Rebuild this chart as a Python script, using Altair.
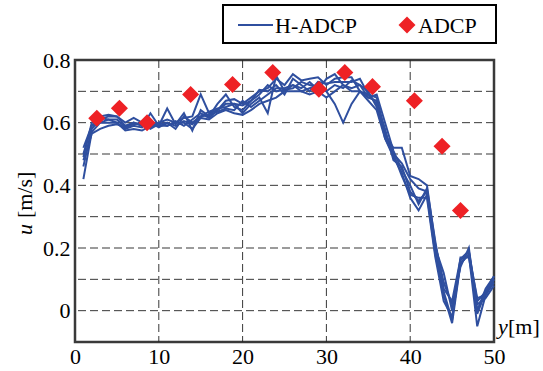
import altair as alt
import pandas as pd

# Cross-channel positions [m]
y_pos = list(range(1, 51))

# H-ADCP velocity profiles u [m/s], one list per measurement run
run_1 = [0.50, 0.59, 0.62, 0.625, 0.62, 0.60, 0.615, 0.60, 0.595, 0.60,
         0.61, 0.60, 0.615, 0.62, 0.69, 0.63, 0.64, 0.67, 0.675, 0.66,
         0.68, 0.70, 0.71, 0.74, 0.72, 0.755, 0.735, 0.74, 0.745, 0.72,
         0.74, 0.745, 0.745, 0.70, 0.69, 0.68, 0.57, 0.50, 0.47, 0.42,
         0.39, 0.38, 0.20, 0.12, 0.00, 0.16, 0.19, 0.03, 0.06, 0.10]
run_2 = [0.42, 0.57, 0.60, 0.61, 0.60, 0.58, 0.59, 0.585, 0.63, 0.59,
         0.645, 0.595, 0.63, 0.575, 0.64, 0.62, 0.66, 0.69, 0.65, 0.64,
         0.67, 0.69, 0.72, 0.70, 0.705, 0.71, 0.73, 0.72, 0.715, 0.70,
         0.66, 0.60, 0.66, 0.70, 0.68, 0.67, 0.55, 0.49, 0.44, 0.36,
         0.32, 0.37, 0.18, 0.05, -0.04, 0.15, 0.18, -0.05, 0.05, 0.09]
run_3 = [0.46, 0.58, 0.61, 0.62, 0.62, 0.59, 0.60, 0.59, 0.60, 0.585,
         0.60, 0.58, 0.62, 0.60, 0.62, 0.635, 0.645, 0.65, 0.66, 0.63,
         0.66, 0.68, 0.63, 0.75, 0.70, 0.72, 0.71, 0.73, 0.705, 0.74,
         0.755, 0.72, 0.71, 0.72, 0.70, 0.65, 0.56, 0.52, 0.52, 0.43,
         0.42, 0.40, 0.21, 0.09, 0.02, 0.14, 0.20, 0.00, 0.07, 0.11]
run_4 = [0.49, 0.60, 0.615, 0.61, 0.61, 0.585, 0.60, 0.59, 0.585, 0.60,
         0.59, 0.605, 0.59, 0.61, 0.63, 0.615, 0.64, 0.66, 0.66, 0.655,
         0.67, 0.705, 0.70, 0.72, 0.69, 0.74, 0.72, 0.70, 0.73, 0.725,
         0.73, 0.73, 0.73, 0.74, 0.69, 0.66, 0.58, 0.48, 0.46, 0.38,
         0.35, 0.38, 0.19, 0.06, -0.03, 0.17, 0.17, 0.02, 0.04, 0.08]
run_5 = [0.52, 0.59, 0.60, 0.60, 0.60, 0.575, 0.58, 0.575, 0.59, 0.59,
         0.59, 0.60, 0.60, 0.58, 0.615, 0.61, 0.63, 0.64, 0.63, 0.625,
         0.64, 0.66, 0.67, 0.68, 0.70, 0.70, 0.70, 0.69, 0.70, 0.68,
         0.70, 0.72, 0.70, 0.70, 0.67, 0.64, 0.55, 0.50, 0.43, 0.37,
         0.36, 0.36, 0.17, 0.03, -0.02, 0.15, 0.18, 0.04, 0.05, 0.10]
run_6 = [0.48, 0.565, 0.58, 0.59, 0.595, 0.585, 0.595, 0.60, 0.58, 0.595,
         0.60, 0.59, 0.605, 0.595, 0.62, 0.625, 0.635, 0.645, 0.64, 0.67,
         0.65, 0.67, 0.69, 0.71, 0.71, 0.72, 0.70, 0.71, 0.72, 0.70,
         0.72, 0.71, 0.735, 0.72, 0.68, 0.69, 0.60, 0.51, 0.45, 0.40,
         0.34, 0.39, 0.22, 0.07, 0.03, 0.165, 0.19, -0.01, 0.06, 0.11]
runs = [run_1, run_2, run_3, run_4, run_5, run_6]

# ADCP reference measurements
adcp_y = [2.6, 5.3, 8.6, 13.8, 18.8, 23.6, 29.1, 32.2, 35.5, 40.5, 43.8, 46.0]
adcp_u = [0.614, 0.646, 0.600, 0.690, 0.722, 0.760, 0.707, 0.760, 0.715,
          0.670, 0.525, 0.320]

x_ticks = [0, 10, 20, 30, 40, 50]
y_ticks = [0, 0.2, 0.4, 0.6, 0.8]
x_grid = [10, 20, 30, 40]
y_grid = [0.0, 0.1, 0.2, 0.3, 0.4, 0.5, 0.6, 0.7]

BLUE = "#2F4F9F"
RED = "#EE2125"
SERIF = "Liberation Serif, Times New Roman, Times, serif"
FS = 22

rows = []
for k, run in enumerate(runs):
    for yy, uu in zip(y_pos, run):
        rows.append({"run": k, "y": yy, "u": uu})
hadcp = pd.DataFrame(rows)
adcp = pd.DataFrame({"y": adcp_y, "u": adcp_u})

x_scale = alt.Scale(domain=[0, 50], nice=False, zero=False)
y_scale = alt.Scale(domain=[-0.1, 0.8], nice=False, zero=False)

axis_style = dict(domain=False, ticks=False, grid=False, title=None,
                  labelFont=SERIF, labelFontSize=FS, labelColor="black",
                  labelOverlap=False)

# Dashed grid lines
vgrid = alt.Chart(pd.DataFrame({"y": x_grid})).mark_rule(
    color="#222", strokeDash=[8, 4], strokeWidth=1, opacity=0.9
).encode(x=alt.X("y:Q", scale=x_scale,
                 axis=alt.Axis(values=x_ticks, format="d", labelPadding=4,
                               labelFlush=False, **axis_style)))
hgrid = alt.Chart(pd.DataFrame({"u": y_grid})).mark_rule(
    color="#222", strokeDash=[8, 4], strokeWidth=1, opacity=0.9
).encode(y=alt.Y("u:Q", scale=y_scale,
                 axis=alt.Axis(values=y_ticks, format=".1f",
                               labelExpr="datum.value == 0 ? '0' : datum.label",
                               labelPadding=5, labelFlush=False,
                               **axis_style)))

lines = alt.Chart(hadcp).mark_line(color=BLUE, strokeWidth=2).encode(
    x=alt.X("y:Q", scale=x_scale), y=alt.Y("u:Q", scale=y_scale),
    detail="run:N")

points = alt.Chart(adcp).mark_point(
    shape="diamond", filled=True, color=RED, size=290, opacity=1
).encode(x="y:Q", y="u:Q")

# Axis titles with italic variable symbols
base_txt = alt.Chart(pd.DataFrame({"t": [0]}))


def txt(text, x, y, italic=False, angle=0):
    return base_txt.mark_text(
        text=text, font=SERIF, fontSize=FS, color="black", align="left",
        baseline="alphabetic", angle=angle,
        fontStyle="italic" if italic else "normal",
    ).encode(x=alt.value(x), y=alt.value(y))


u_title = txt("u", -43, 175, italic=True, angle=270)
unit_title = txt("[m/s]", -43, 158, angle=270)
y_title = txt("y", 423, 274, italic=True)
ym_title = txt("[m]", 433, 274)

# Legend box above the plot
legend_box = base_txt.mark_rect(
    fill="white", stroke="black", strokeWidth=2
).encode(x=alt.value(148), x2=alt.value(421), y=alt.value(-55),
         y2=alt.value(-17))
legend_line = base_txt.mark_rule(color=BLUE, strokeWidth=2).encode(
    x=alt.value(163), x2=alt.value(198), y=alt.value(-35))
legend_diamond = base_txt.mark_point(
    shape="diamond", filled=True, color=RED, size=290, opacity=1
).encode(x=alt.value(332), y=alt.value(-35))
legend_t1 = txt("H-ADCP", 200, -27)
legend_t2 = txt("ADCP", 343, -27)

chart = alt.layer(
    vgrid, hgrid, lines, points, u_title, unit_title, y_title, ym_title,
    legend_box, legend_line, legend_diamond, legend_t1, legend_t2,
).properties(
    width=419, height=282, autosize="none",
    padding={"left": 75, "top": 60, "right": 49, "bottom": 29},
    background="white",
).configure_view(
    stroke="#3a3a3a", strokeWidth=2.5
)

chart.save("out.html", embed_options={"renderer": "svg", "actions": False})
